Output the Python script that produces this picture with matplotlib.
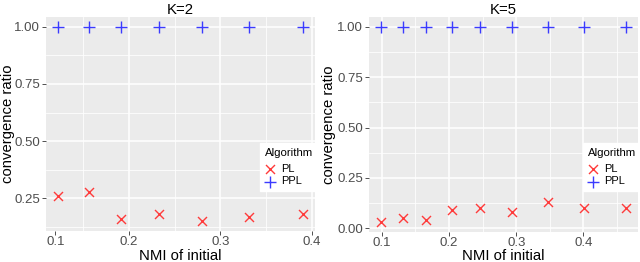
import matplotlib
matplotlib.use("Agg")
import matplotlib.pyplot as plt
from matplotlib.ticker import FixedLocator

plt.rcParams['font.family'] = ['Liberation Sans', 'DejaVu Sans']

# K=2
nmi_k2 = [0.123, 0.157, 0.191, 0.233, 0.280, 0.331, 0.390]
pl_k2 = [0.26, 0.28, 0.16, 0.18, 0.15, 0.17, 0.18]
ppl_k2 = [1.0, 1.0, 1.0, 1.0, 1.0, 1.0, 1.0]

# K=5
nmi_k5 = [0.099, 0.131, 0.165, 0.205, 0.246, 0.293, 0.347, 0.401, 0.463]
pl_k5 = [0.03, 0.05, 0.04, 0.09, 0.10, 0.08, 0.13, 0.10, 0.10]
ppl_k5 = [1.0, 1.0, 1.0, 1.0, 1.0, 1.0, 1.0, 1.0, 1.0]

W, H = 640, 262
fig = plt.figure(figsize=(W / 100, H / 100), dpi=100)


def pane(rect, title, x, pl, ppl, xticks, xlabels, xminor, yticks, yminor, legend_anchor, ylab_x):
    l, t, r, b = rect
    ax = fig.add_axes([l / W, 1 - b / H, (r - l) / W, (b - t) / H])
    ax.set_facecolor('#EBEBEB')
    for s in ax.spines.values():
        s.set_visible(False)
    ax.scatter(x, pl, marker='x', s=42, c='#FF3B3B', linewidths=1.0, label='PL', zorder=3)
    ax.scatter(x, ppl, marker='+', s=75, c='#3B3BFF', linewidths=1.0, label='PPL', zorder=3)

    rng = max(x) - min(x)
    ax.set_xlim(min(x) - 0.05 * rng, max(x) + 0.05 * rng)
    lo, hi = min(pl), max(ppl)
    ax.set_ylim(lo - 0.05 * (hi - lo), hi + 0.05 * (hi - lo))

    ax.set_xticks(xticks)
    ax.set_xticklabels(xlabels)
    ax.xaxis.set_minor_locator(FixedLocator(xminor))
    ax.set_yticks(yticks)
    ax.set_yticklabels([f"{v:.2f}" for v in yticks])
    ax.yaxis.set_minor_locator(FixedLocator(yminor))

    ax.grid(True, which='major', color='white', linewidth=1.1)
    ax.grid(True, which='minor', color='white', linewidth=0.55)
    ax.set_axisbelow(True)
    ax.tick_params(which='major', length=2.8, width=0.6, color='#333333',
                   labelsize=9.5, labelcolor='#4D4D4D', pad=1.5)
    ax.tick_params(axis='x', which='major', pad=1.0)
    ax.tick_params(which='minor', length=0)

    ax.set_title(title, fontsize=10.7, pad=1.5)
    ax.set_xlabel('NMI of initial', fontsize=10.7)
    ax.set_ylabel('convergence ratio', fontsize=10.7)
    # pin the axis titles where the reference has them (figure pixels)
    ax.xaxis.set_label_coords(0.5, -(260.5 - b) / (b - t))
    ax.xaxis.label.set_va('baseline')
    ax.yaxis.set_label_coords(-(l - ylab_x) / (r - l), 0.5)

    leg = ax.legend(loc='upper right', bbox_to_anchor=(legend_anchor[0] / W, 1 - legend_anchor[1] / H),
                    bbox_transform=fig.transFigure, title='Algorithm', fontsize=7.9,
                    title_fontsize=8.2, frameon=True, fancybox=False, framealpha=1,
                    edgecolor='white', facecolor='white', alignment='left',
                    handlelength=1.0, handletextpad=0.5, labelspacing=0.2,
                    borderpad=0.45, borderaxespad=0)
    leg._legend_box.sep = 4.5
    return ax


ax1 = pane((46, 17, 315, 231), 'K=2', nmi_k2, pl_k2, ppl_k2,
           [0.12, 0.2, 0.3, 0.4], ['0.1', '0.2', '0.3', '0.4'], [0.15, 0.25, 0.35],
           [0.25, 0.50, 0.75, 1.00], [0.125, 0.375, 0.625, 0.875], (318, 143), 15.5)
# the "0.1" label sits without its own grid line
ax1.get_xgridlines()[0].set_visible(False)

ax2 = pane((369, 17, 638, 232), 'K=5', nmi_k5, pl_k5, ppl_k5,
           [0.1, 0.2, 0.3, 0.4], ['0.1', '0.2', '0.3', '0.4'], [0.15, 0.25, 0.35, 0.45],
           [0.00, 0.25, 0.50, 0.75, 1.00], [0.125, 0.375, 0.625, 0.875], (641, 143), 335.5)

fig.savefig('out.png', dpi=100)
